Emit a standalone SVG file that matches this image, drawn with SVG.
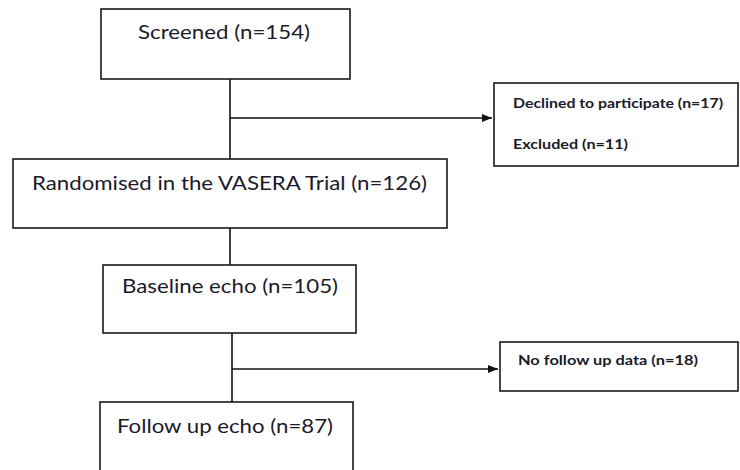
<svg xmlns="http://www.w3.org/2000/svg" width="740" height="470" viewBox="0 0 740 470">
<style>
.box{fill:#fff;stroke:#1a1a1a;stroke-width:1.6}
.big{font-family:Lato,"Liberation Sans",sans-serif;font-size:19px;fill:#1a1a2a}
.small{font-family:Lato,"Liberation Sans",sans-serif;font-size:13px;font-weight:bold;fill:#1a1a2a}
.conn line{stroke:#111;stroke-width:1.6}
</style>
<defs>
<marker id="arr" viewBox="0 0 10 10" refX="10" refY="5" markerWidth="10" markerHeight="10" markerUnits="userSpaceOnUse" orient="auto">
<path d="M0,1 L10,5 L0,9 Z" fill="#111"/>
</marker>
</defs>
<rect width="740" height="470" fill="#fff"/>
<g id="connectors" class="conn">
<line x1="230" y1="79" x2="230" y2="159"/>
<line x1="230" y1="118" x2="492" y2="118" marker-end="url(#arr)"/>
<line x1="230" y1="228" x2="230" y2="265"/>
<line x1="232" y1="333" x2="232" y2="402"/>
<line x1="232" y1="369" x2="498" y2="369" marker-end="url(#arr)"/>
</g>
<g id="screened">
<rect class="box" x="101" y="9" width="249" height="70"/>
<text class="big" x="138" y="39" textLength="172" lengthAdjust="spacingAndGlyphs">Screened (n=154)</text>
</g>
<g id="excluded">
<rect class="box" x="494" y="83" width="244" height="83"/>
<text class="small" x="513" y="108" textLength="210" lengthAdjust="spacingAndGlyphs">Declined to participate (n=17)</text>
<text class="small" x="513" y="149" textLength="115" lengthAdjust="spacingAndGlyphs">Excluded (n=11)</text>
</g>
<g id="randomised">
<rect class="box" x="13" y="159" width="434" height="69"/>
<text class="big" x="32" y="190" textLength="395" lengthAdjust="spacingAndGlyphs">Randomised in the VASERA Trial (n=126)</text>
</g>
<g id="baseline">
<rect class="box" x="103" y="265" width="253" height="68"/>
<text class="big" x="122" y="293" textLength="216" lengthAdjust="spacingAndGlyphs">Baseline echo (n=105)</text>
</g>
<g id="nofollowup">
<rect class="box" x="500" y="342" width="238" height="49"/>
<text class="small" x="518" y="365" textLength="180" lengthAdjust="spacingAndGlyphs">No follow up data (n=18)</text>
</g>
<g id="followup">
<rect class="box" x="100" y="402" width="253" height="80"/>
<text class="big" x="117" y="433" textLength="216" lengthAdjust="spacingAndGlyphs">Follow up echo (n=87)</text>
</g>
</svg>
